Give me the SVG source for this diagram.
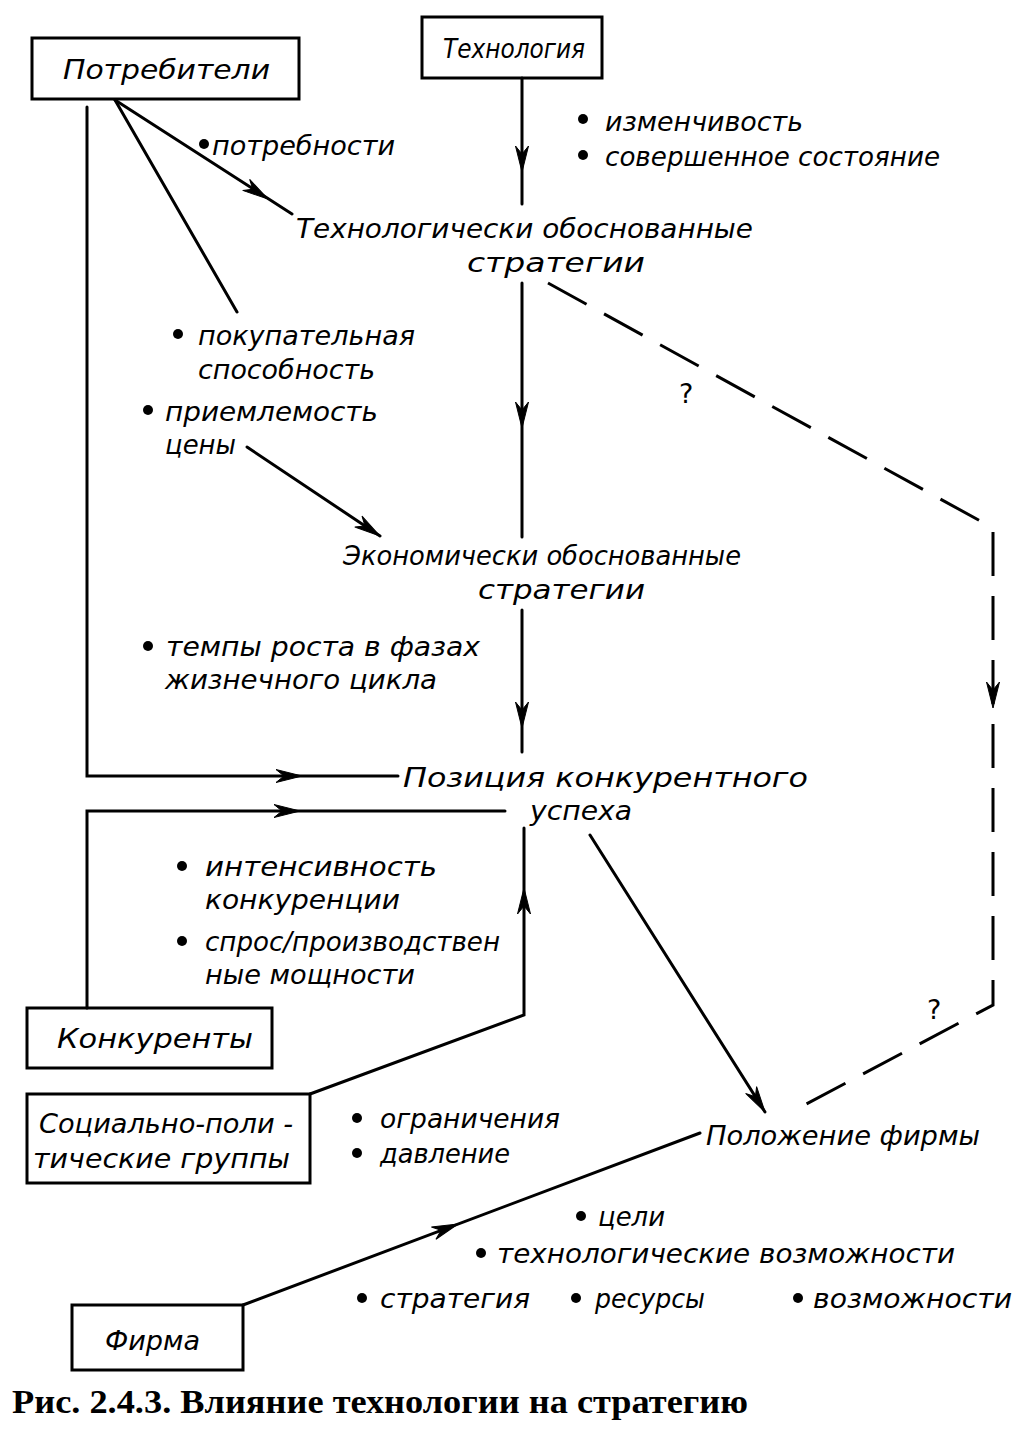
<svg xmlns="http://www.w3.org/2000/svg" xmlns:xlink="http://www.w3.org/1999/xlink" width="1028" height="1430" viewBox="0 0 1028 1430">
<style>
.bg{fill:#fff}
.box{fill:none;stroke:#000;stroke-width:3}
.ln{fill:none;stroke:#000;stroke-width:3;stroke-linecap:round;stroke-linejoin:miter}
.dash{fill:none;stroke:#000;stroke-width:3;stroke-dasharray:44 20}
.t{font-family:"DejaVu Sans Condensed","DejaVu Sans","Liberation Sans",sans-serif;font-style:italic;font-size:27px;fill:#000}
.q{font-family:"DejaVu Sans","Liberation Sans",sans-serif;font-size:27px;fill:#000}
.cap{font-family:"Liberation Serif",serif;font-weight:bold;font-size:33px;fill:#000}
.dot{fill:#000}
</style>
<defs>
<path id="ah" d="M0,0 L-26,-6.5 L-18,0 L-26,6.5 Z" fill="#000" stroke="#000" stroke-width="1"/>
<circle id="b" r="5" class="dot"/>
</defs>
<rect class="bg" x="0" y="0" width="1028" height="1430"/>

<g id="connectors">
  <path class="ln" d="M87,107 V776 H398"/>
  <use xlink:href="#ah" href="#ah" transform="translate(302,776)"/>
  <path class="ln" d="M115,100 L292,214"/>
  <use xlink:href="#ah" href="#ah" transform="translate(268,199) rotate(32.8)"/>
  <path class="ln" d="M115,100 L237,312"/>
  <path class="ln" d="M522,78 V204"/>
  <use xlink:href="#ah" href="#ah" transform="translate(522,172) rotate(90)"/>
  <path class="ln" d="M522,283 V537"/>
  <use xlink:href="#ah" href="#ah" transform="translate(522,428) rotate(90)"/>
  <path class="ln" d="M247,447 L380,536"/>
  <use xlink:href="#ah" href="#ah" transform="translate(380,536) rotate(33.8)"/>
  <path class="ln" d="M522,610 V752"/>
  <use xlink:href="#ah" href="#ah" transform="translate(522,728) rotate(90)"/>
  <path class="ln" d="M87,1008 V811 H505"/>
  <use xlink:href="#ah" href="#ah" transform="translate(300,811)"/>
  <path class="ln" d="M310,1094 L524,1015 V828"/>
  <use xlink:href="#ah" href="#ah" transform="translate(524,888) rotate(-90)"/>
  <path class="ln" d="M590,835 L765,1112"/>
  <use xlink:href="#ah" href="#ah" transform="translate(765,1112) rotate(57.7)"/>
  <path class="ln" d="M243,1305 L700,1133"/>
  <use xlink:href="#ah" href="#ah" transform="translate(458,1224) rotate(-20.6)"/>
  <path class="dash" d="M548,283 L993,528 V1005 L795,1110"/>
  <use xlink:href="#ah" href="#ah" transform="translate(993,708) rotate(90)"/>
  <text class="q" x="679" y="403">?</text>
  <text class="q" x="927" y="1019">?</text>
</g>

<g id="n-potrebiteli">
  <rect class="box" x="32" y="38" width="267" height="61"/>
  <text class="t" x="63" y="79" textLength="207" lengthAdjust="spacingAndGlyphs">Потребители</text>
</g>
<g id="n-tehnologiya">
  <rect class="box" x="422" y="17" width="180" height="61"/>
  <text class="t" x="443" y="58" textLength="142" lengthAdjust="spacingAndGlyphs">Технология</text>
</g>
<g id="n-tech-attr">
  <use xlink:href="#b" href="#b" x="583" y="119"/>
  <text class="t" x="605" y="131" textLength="198" lengthAdjust="spacingAndGlyphs">изменчивость</text>
  <use xlink:href="#b" href="#b" x="583" y="155"/>
  <text class="t" x="605" y="166" textLength="335" lengthAdjust="spacingAndGlyphs">совершенное состояние</text>
</g>
<g id="n-needs">
  <use xlink:href="#b" href="#b" x="204" y="144"/>
  <text class="t" x="212" y="155" textLength="183" lengthAdjust="spacingAndGlyphs">потребности</text>
</g>
<g id="n-tech-strat">
  <text class="t" x="296" y="238" textLength="457" lengthAdjust="spacingAndGlyphs">Технологически обоснованные</text>
  <text class="t" x="467" y="272" textLength="178" lengthAdjust="spacingAndGlyphs">стратегии</text>
</g>
<g id="n-buy">
  <use xlink:href="#b" href="#b" x="178" y="334"/>
  <text class="t" x="198" y="345" textLength="217" lengthAdjust="spacingAndGlyphs">покупательная</text>
  <text class="t" x="198" y="379" textLength="177" lengthAdjust="spacingAndGlyphs">способность</text>
  <use xlink:href="#b" href="#b" x="148" y="410"/>
  <text class="t" x="165" y="421" textLength="213" lengthAdjust="spacingAndGlyphs">приемлемость</text>
  <text class="t" x="165" y="454" textLength="71" lengthAdjust="spacingAndGlyphs">цены</text>
</g>
<g id="n-econ-strat">
  <text class="t" x="343" y="565" textLength="398" lengthAdjust="spacingAndGlyphs">Экономически обоснованные</text>
  <text class="t" x="478" y="599" textLength="167" lengthAdjust="spacingAndGlyphs">стратегии</text>
</g>
<g id="n-growth">
  <use xlink:href="#b" href="#b" x="148" y="646"/>
  <text class="t" x="166" y="656" textLength="314" lengthAdjust="spacingAndGlyphs">темпы роста в фазах</text>
  <text class="t" x="165" y="689" textLength="272" lengthAdjust="spacingAndGlyphs">жизнечного цикла</text>
</g>
<g id="n-position">
  <text class="t" x="403" y="787" textLength="405" lengthAdjust="spacingAndGlyphs">Позиция конкурентного</text>
  <text class="t" x="530" y="820" textLength="102" lengthAdjust="spacingAndGlyphs">успеха</text>
</g>
<g id="n-comp-attr">
  <use xlink:href="#b" href="#b" x="182" y="866"/>
  <text class="t" x="205" y="876" textLength="232" lengthAdjust="spacingAndGlyphs">интенсивность</text>
  <text class="t" x="205" y="909" textLength="195" lengthAdjust="spacingAndGlyphs">конкуренции</text>
  <use xlink:href="#b" href="#b" x="182" y="941"/>
  <text class="t" x="205" y="951" textLength="295" lengthAdjust="spacingAndGlyphs">спрос/производствен</text>
  <text class="t" x="205" y="984" textLength="210" lengthAdjust="spacingAndGlyphs">ные мощности</text>
</g>
<g id="n-konkurenty">
  <rect class="box" x="27" y="1008" width="245" height="60"/>
  <text class="t" x="57" y="1048" textLength="196" lengthAdjust="spacingAndGlyphs">Конкуренты</text>
</g>
<g id="n-social">
  <rect class="box" x="27" y="1094" width="283" height="89"/>
  <text class="t" x="39" y="1133" textLength="254" lengthAdjust="spacingAndGlyphs">Социально-поли -</text>
  <text class="t" x="33" y="1168" textLength="257" lengthAdjust="spacingAndGlyphs">тические группы</text>
</g>
<g id="n-social-attr">
  <use xlink:href="#b" href="#b" x="357" y="1118"/>
  <text class="t" x="380" y="1128" textLength="180" lengthAdjust="spacingAndGlyphs">ограничения</text>
  <use xlink:href="#b" href="#b" x="357" y="1153"/>
  <text class="t" x="380" y="1163" textLength="130" lengthAdjust="spacingAndGlyphs">давление</text>
</g>
<g id="n-polozhenie">
  <text class="t" x="706" y="1145" textLength="274" lengthAdjust="spacingAndGlyphs">Положение фирмы</text>
</g>
<g id="n-firm-attr">
  <use xlink:href="#b" href="#b" x="581" y="1216"/>
  <text class="t" x="598" y="1226" textLength="67" lengthAdjust="spacingAndGlyphs">цели</text>
  <use xlink:href="#b" href="#b" x="481" y="1253"/>
  <text class="t" x="497" y="1263" textLength="458" lengthAdjust="spacingAndGlyphs">технологические возможности</text>
  <use xlink:href="#b" href="#b" x="362" y="1298"/>
  <text class="t" x="380" y="1308" textLength="150" lengthAdjust="spacingAndGlyphs">стратегия</text>
  <use xlink:href="#b" href="#b" x="576" y="1298"/>
  <text class="t" x="595" y="1308" textLength="110" lengthAdjust="spacingAndGlyphs">ресурсы</text>
  <use xlink:href="#b" href="#b" x="798" y="1298"/>
  <text class="t" x="813" y="1308" textLength="199" lengthAdjust="spacingAndGlyphs">возможности</text>
</g>
<g id="n-firma">
  <rect class="box" x="72" y="1305" width="171" height="65"/>
  <text class="t" x="105" y="1350" textLength="95" lengthAdjust="spacingAndGlyphs">Фирма</text>
</g>
<g id="caption">
  <text class="cap" x="12" y="1413" textLength="736" lengthAdjust="spacingAndGlyphs">Рис. 2.4.3. Влияние технологии на стратегию</text>
</g>
</svg>
